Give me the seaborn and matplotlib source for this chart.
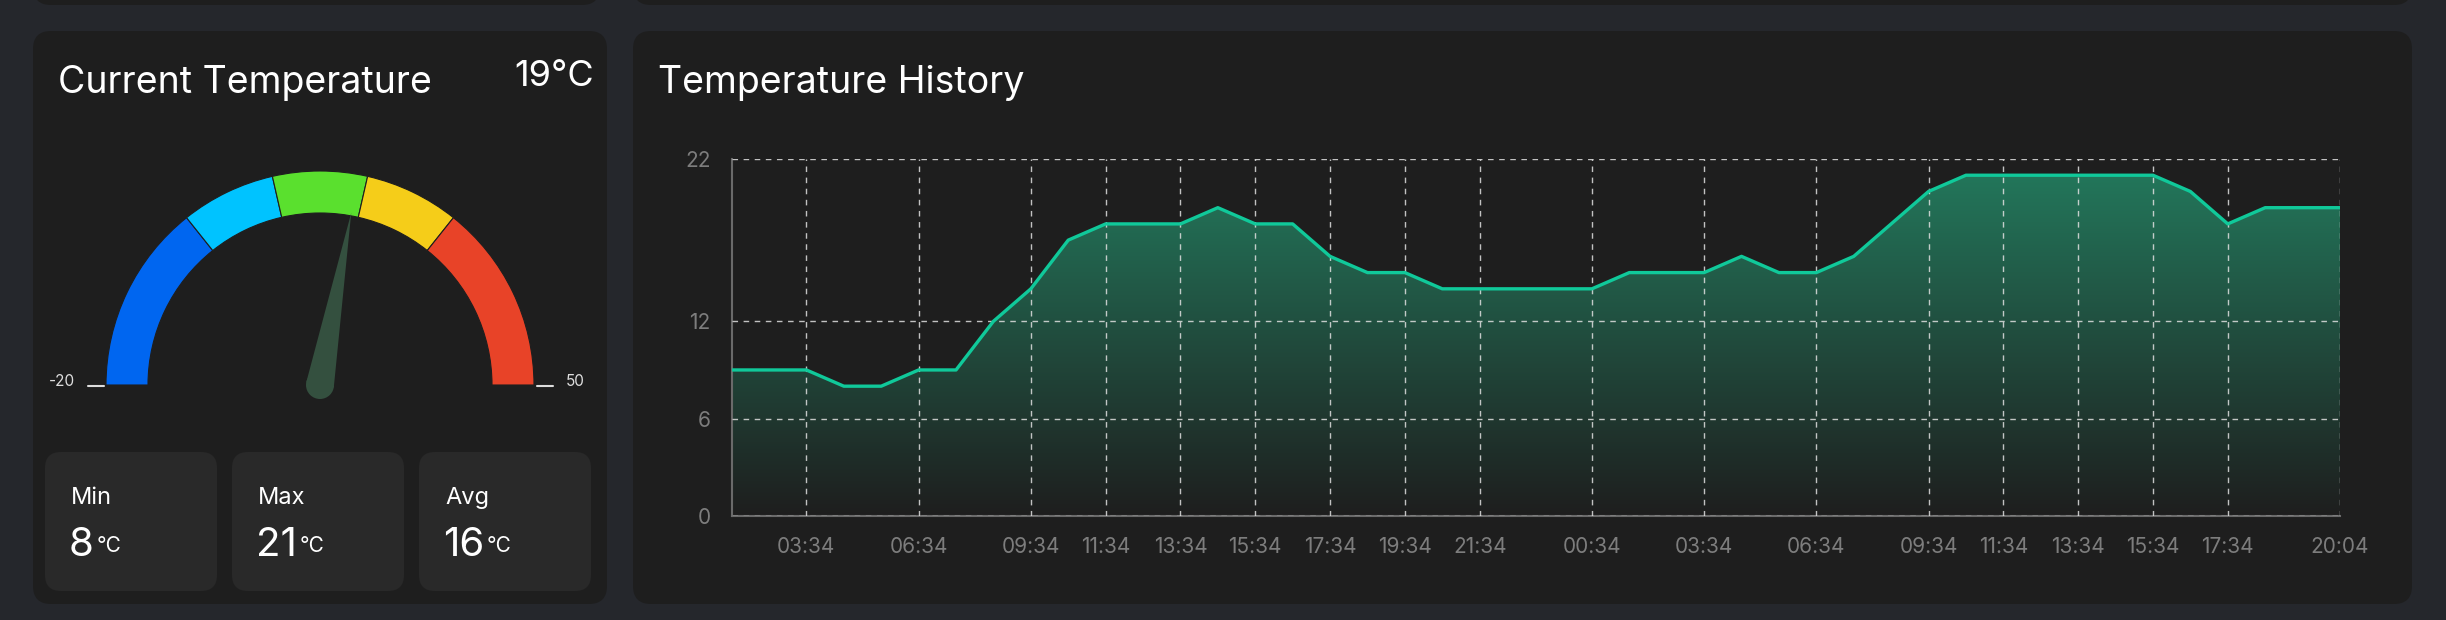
import numpy as np
import pandas as pd
import matplotlib
matplotlib.use("Agg")
import matplotlib.pyplot as plt
import seaborn as sns
from matplotlib.patches import FancyBboxPatch, Wedge, Polygon, Circle

# data
temps = [9, 9, 9, 8, 8, 9, 9, 12, 14, 17, 18, 18, 18, 19, 18, 18, 16, 15, 15, 14,
         14, 14, 14, 14, 15, 15, 15, 16, 15, 15, 16, 18, 20, 21, 21, 21, 21, 21, 21, 20,
         18, 19, 19, 19]
tick_idx = [2, 5, 8, 10, 12, 14, 16, 18, 20, 23, 26, 29, 32, 34, 36, 38, 40, 43]
tick_labels = ["03:34", "06:34", "09:34", "11:34", "13:34", "15:34", "17:34", "19:34", "21:34",
               "00:34", "03:34", "06:34", "09:34", "11:34", "13:34", "15:34", "17:34", "20:04"]
y_ticks = [0, 6, 12, 22]
current = 19
gauge_min, gauge_max = -20, 50
gauge_bounds = [-20, 0, 10, 20, 30, 50]
gauge_colors = ["#0066f0", "#00c3ff", "#5ae02e", "#f5cd19", "#e84328"]
stat_names = ["Min", "Max", "Avg"]
stat_values = [8, 21, 16]

df = pd.DataFrame({"idx": np.arange(len(temps)), "temp": temps})

sns.set_theme(style="dark")
plt.rcParams["font.family"] = ["Inter", "DejaVu Sans"]

W, H = 2446, 620
fig = plt.figure(figsize=(W / 100, H / 100), dpi=100)
fig.patch.set_facecolor("#25272c")

# background / cards layer in pixel coords
bg = fig.add_axes([0, 0, 1, 1])
bg.set_xlim(0, W)
bg.set_ylim(H, 0)
bg.axis("off")
bg.set_facecolor("none")

def card(x0, y0, x1, y1, color, r=18):
    bg.add_patch(FancyBboxPatch((x0 + r, y0 + r), x1 - x0 - 2 * r, y1 - y0 - 2 * r,
                                boxstyle=f"round,pad={r}", fc=color, ec="none"))

card(33, -60, 600, 5, "#1e1e1e")
card(633, -60, 2412, 5, "#1e1e1e")
card(33, 31, 607, 604, "#1e1e1e")
card(633, 31, 2412, 604, "#1e1e1e")

# gauge
cx, cy, r_out, r_in = 320, 385, 214, 172
def to_theta(v):
    return 180 * (v - gauge_min) / (gauge_max - gauge_min) - 180
for lo, hi, col in zip(gauge_bounds[:-1], gauge_bounds[1:], gauge_colors):
    bg.add_patch(Wedge((cx, cy), r_out, to_theta(lo), to_theta(hi), width=r_out - r_in,
                       fc=col, ec="#1e1e1e", lw=0.8))
a = np.deg2rad(180 - 180 * (current - gauge_min) / (gauge_max - gauge_min))
tip = (cx + 175 * np.cos(a), cy - 175 * np.sin(a))
px, py = np.sin(a), np.cos(a)
bw = 14
bg.add_patch(Polygon([tip, (cx + bw * px, cy + bw * py), (cx - bw * px, cy - bw * py)],
                     fc="#34503f", ec="none"))
bg.add_patch(Circle((cx, cy), 14, fc="#34503f", ec="none"))
bg.plot([88, 104], [386, 386], color="#dddddd", lw=1.5)
bg.plot([537, 553], [386, 386], color="#dddddd", lw=1.5)
bg.text(75, 382, str(gauge_min), color="#dddddd", fontsize=11, ha="right", va="center")
bg.text(566, 382, str(gauge_max), color="#dddddd", fontsize=11, ha="left", va="center")

bg.text(58, 83, "Current Temperature", color="white", fontsize=27, va="center", ha="left")
bg.text(594, 76, f"{current}°C", color="white", fontsize=26, va="center", ha="right")

# stat boxes
for i, (name, val) in enumerate(zip(stat_names, stat_values)):
    x0 = 45 + i * 187
    card(x0, 452, x0 + 172, 591, "#292929", r=16)
    bg.text(x0 + 26, 498, name, color="white", fontsize=17, va="center")
    t = bg.text(x0 + 24, 545, str(val), color="white", fontsize=29, va="center")
    bg.annotate("°C", xycoords=t, xy=(1, 0.2), xytext=(2, 0), textcoords="offset points",
                color="white", fontsize=15, va="bottom")

bg.text(658, 83, "Temperature History", color="white", fontsize=27, va="center", ha="left")

# history chart
ax = fig.add_axes([731.6 / W, 1 - 516 / H, (2340 - 731.6) / W, (516 - 159) / H])
ax.set_facecolor("none")
n = len(temps)
ax.set_xlim(0, n - 1)
ax.set_ylim(0, 22)

fill = ax.fill_between(df["idx"], df["temp"], 0, color="none")
grad = np.linspace(0, 1, 256)[:, None]
cmap = matplotlib.colors.LinearSegmentedColormap.from_list("g", ["#1e1e1e", "#237a5d"])
img = ax.imshow(grad, cmap=cmap, aspect="auto", extent=[0, n - 1, 0, 22], origin="lower",
                vmin=0, vmax=1, zorder=1)
path = fill.get_paths()[0]
img.set_clip_path(path, transform=ax.transData)
sns.lineplot(data=df, x="idx", y="temp", ax=ax, color="#10c99a", lw=2.4, zorder=3)

ax.set_xticks(tick_idx)
ax.set_xticklabels(tick_labels)
ax.set_yticks(y_ticks)
ax.set_xlabel("")
ax.set_ylabel("")
ax.grid(True, color="#e0e0e0", ls=(0, (4, 4)), lw=1, alpha=0.85)
ax.set_axisbelow(False)
for s in ["top", "right"]:
    ax.spines[s].set_visible(False)
for s in ["left", "bottom"]:
    ax.spines[s].set_visible(True)
    ax.spines[s].set_color("#6a6a6a")
    ax.spines[s].set_linewidth(1.5)
ax.tick_params(axis="both", colors="#6a6a6a", labelcolor="#7d7d7d", labelsize=15,
               length=9, width=1.2, pad=6)

fig.savefig("out.png", dpi=100, facecolor=fig.get_facecolor())
